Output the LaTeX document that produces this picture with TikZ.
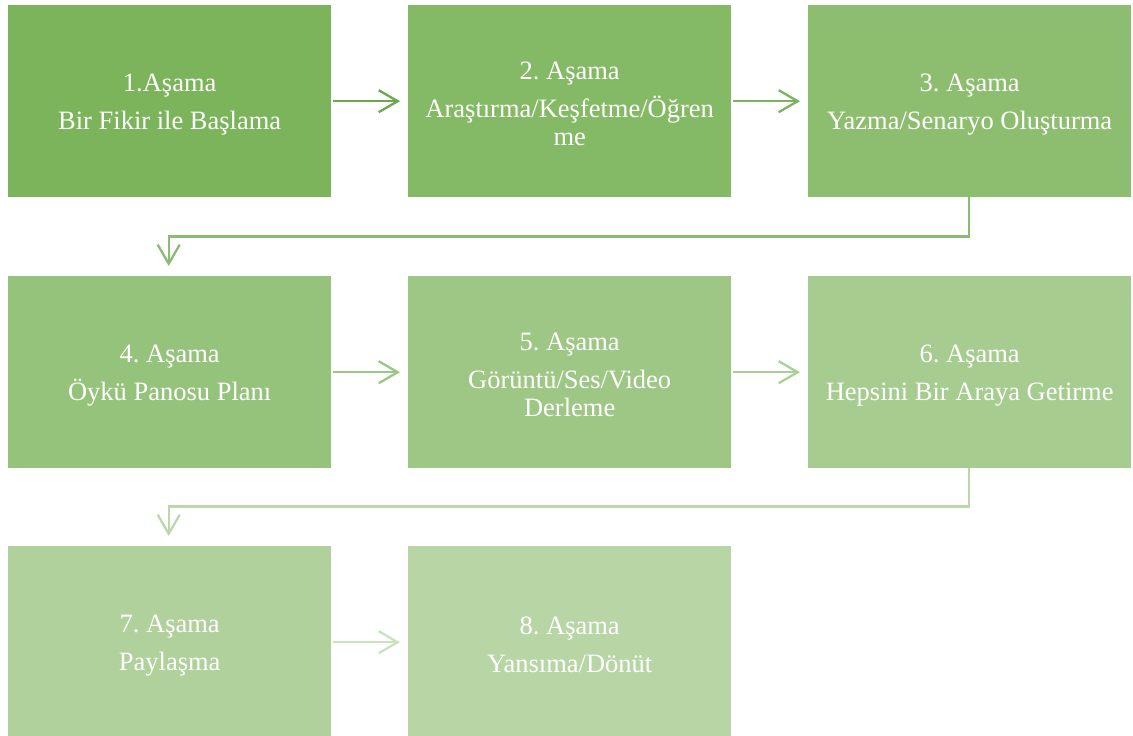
\documentclass[tikz,border=0pt]{standalone}
\usepackage{fontspec}
\setmainfont{Liberation Serif}
\usetikzlibrary{arrows.meta}
\frenchspacing
\definecolor{cA}{RGB}{124,180,91}
\definecolor{cB}{RGB}{184,214,165}
\definecolor{aA}{RGB}{110,168,78}
\definecolor{aB}{RGB}{202,226,190}
\tikzset{
  stage/.style={fill=#1, draw=none, minimum width=323pt, minimum height=192pt,
    anchor=north west, inner sep=0pt},
  stagetext/.style={text=white, align=center, yshift=-3pt,
    font=\fontsize{26.5pt}{28pt}\selectfont},
  conn/.style={draw=#1, line width=2.3pt, -{Straight Barb[length=19pt,width=22pt,line width=2.3pt]}},
}
\begin{document}
\begin{tikzpicture}[x=1pt,y=-1pt]
\useasboundingbox (0,0) rectangle (1133,736);
\colorlet{s1}{cA}
\colorlet{s2}{cB!14!cA}
\colorlet{s3}{cB!29!cA}
\colorlet{s4}{cB!43!cA}
\colorlet{s5}{cB!57!cA}
\colorlet{s6}{cB!71!cA}
\colorlet{s7}{cB!86!cA}
\colorlet{s8}{cB}
\colorlet{a1}{aA}
\colorlet{a2}{aB!17!aA}
\colorlet{a3}{aB!33!aA}
\colorlet{a4}{aB!50!aA}
\colorlet{a5}{aB!67!aA}
\colorlet{a6}{aB!83!aA}
\colorlet{a7}{aB}
\node[stage=s1] (n1) at (8,5) {};
\node[stage=s2] (n2) at (408,5) {};
\node[stage=s3] (n3) at (808,5) {};
\node[stage=s4] (n4) at (8,276) {};
\node[stage=s5] (n5) at (408,276) {};
\node[stage=s6] (n6) at (808,276) {};
\node[stage=s7] (n7) at (8,546) {};
\node[stage=s8] (n8) at (408,546) {};
\node[stagetext] (t1) at (n1.center) {1.Aşama\\[10pt]Bir Fikir ile Başlama};
\node[stagetext] (t2) at (n2.center) {2. Aşama\\[10pt]Araştırma/Keşfetme/Öğren\\me};
\node[stagetext] (t3) at (n3.center) {3. Aşama\\[10pt]Yazma/Senaryo Oluşturma};
\node[stagetext] (t4) at (n4.center) {4. Aşama\\[10pt]Öykü Panosu Planı};
\node[stagetext] (t5) at (n5.center) {5. Aşama\\[10pt]Görüntü/Ses/Video\\Derleme};
\node[stagetext] (t6) at (n6.center) {6. Aşama\\[10pt]Hepsini Bir Araya Getirme};
\node[stagetext] (t7) at (n7.center) {7. Aşama\\[10pt]Paylaşma};
\node[stagetext] (t8) at (n8.center) {8. Aşama\\[10pt]Yansıma/Dönüt};
\draw[conn=a1] ([xshift=2pt]n1.east) -- ([xshift=-8pt]n2.west);
\draw[conn=a2] ([xshift=2pt]n2.east) -- ([xshift=-8pt]n3.west);
\draw[conn=a3] ([xshift=-1pt]n3.south) -- ++(0,39) -| ([xshift=-1pt,yshift=10pt]n4.north);
\draw[conn=a4] ([xshift=2pt]n4.east) -- ([xshift=-8pt]n5.west);
\draw[conn=a5] ([xshift=2pt]n5.east) -- ([xshift=-8pt]n6.west);
\draw[conn=a6] ([xshift=-1pt]n6.south) -- ++(0,38) -| ([xshift=-1pt,yshift=10pt]n7.north);
\draw[conn=a7] ([xshift=2pt]n7.east) -- ([xshift=-8pt]n8.west);
\end{tikzpicture}
\end{document}
